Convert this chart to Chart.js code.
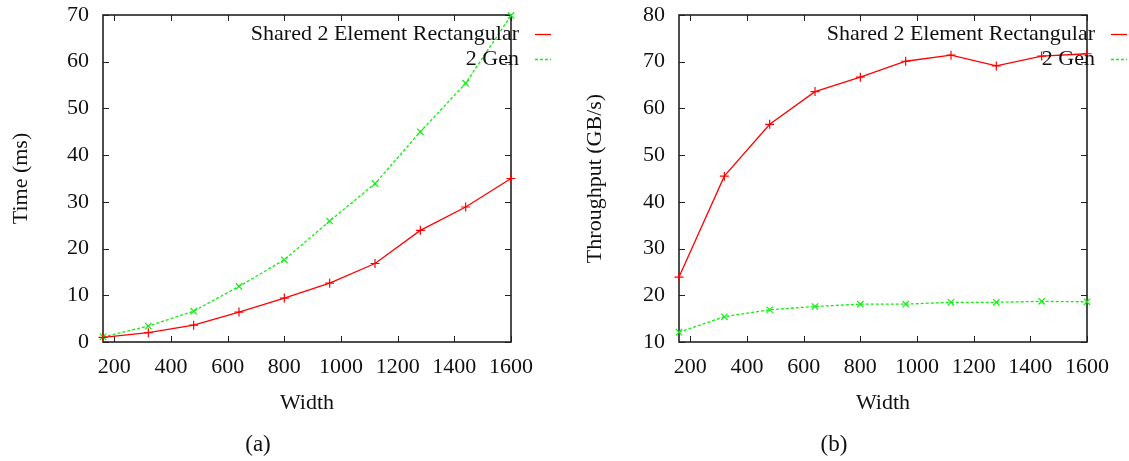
<!DOCTYPE html>
<html>
<head>
<meta charset="utf-8">
<script src="https://cdn.jsdelivr.net/npm/chart.js@4.4.1/dist/chart.umd.min.js"></script>
<style>
  body { margin: 0; background: #fff; width: 1129px; height: 461px; position: relative; overflow: hidden; }
  .panel { position: absolute; top: 0; height: 461px; }
  .caption { position: absolute; top: 431px; font: 23px "Liberation Serif", serif; color: #111; transform: translateX(-50%); }
</style>
</head>
<body>
<div class="panel" style="left:0;width:565px"><canvas id="timeChart"></canvas></div>
<div class="panel" style="left:565px;width:564px"><canvas id="tputChart"></canvas></div>
<div class="caption" style="left:258px">(a)</div>
<div class="caption" style="left:834px">(b)</div>
<script>
const widths = [160, 320, 480, 640, 800, 960, 1120, 1280, 1440, 1600];
const xTicks = [200, 400, 600, 800, 1000, 1200, 1400, 1600];
const seriesLabels = ["Shared 2 Element Rectangular", "2 Gen"];

// (a) time in ms
const timeShared = [1.0, 2.0, 3.6, 6.4, 9.4, 12.6, 16.8, 23.9, 28.9, 35.0];
const timeGen = [1.1, 3.4, 6.6, 11.9, 17.6, 25.9, 33.9, 45.0, 55.4, 69.9];
const timeTicks = [0, 10, 20, 30, 40, 50, 60, 70];

// (b) throughput in GB/s
const tputShared = [23.9, 45.5, 56.6, 63.6, 66.7, 70.1, 71.4, 69.1, 71.2, 71.7];
const tputGen = [12.1, 15.4, 16.9, 17.6, 18.1, 18.1, 18.5, 18.5, 18.7, 18.6];
const tputTicks = [10, 20, 30, 40, 50, 60, 70, 80];

const RED = "#ff0000";
const GREEN = "#11ee11";
const FONT = "Liberation Serif";
const FS = 22;

// gnuplot style frame with inward ticks on all four sides
const framePlugin = {
  id: "frame",
  beforeDatasetsDraw(chart) {
    const { ctx, chartArea: a, scales } = chart;
    ctx.save();
    ctx.strokeStyle = "#222";
    ctx.lineWidth = 1;
    scales.x.ticks.forEach(t => {
      const px = Math.round(scales.x.getPixelForValue(t.value)) + 0.5;
      ctx.beginPath();
      ctx.moveTo(px, a.bottom); ctx.lineTo(px, a.bottom - 6);
      ctx.moveTo(px, a.top); ctx.lineTo(px, a.top + 6);
      ctx.stroke();
    });
    scales.y.ticks.forEach(t => {
      const py = Math.round(scales.y.getPixelForValue(t.value)) + 0.5;
      ctx.beginPath();
      ctx.moveTo(a.left, py); ctx.lineTo(a.left + 6, py);
      ctx.moveTo(a.right, py); ctx.lineTo(a.right - 6, py);
      ctx.stroke();
    });
    ctx.lineWidth = 1.6;
    ctx.strokeRect(a.left, a.top, a.right - a.left, a.bottom - a.top);
    ctx.restore();
  },
  afterDraw(chart) {
    // key: right aligned text with a line sample to its right
    const { ctx, chartArea: a } = chart;
    ctx.save();
    ctx.font = FS + "px " + FONT;
    ctx.textAlign = "right";
    ctx.textBaseline = "middle";
    chart.data.datasets.forEach((ds, i) => {
      const y = 34 + i * 25;
      ctx.fillStyle = "#111";
      ctx.fillText(ds.label, a.right + 8, y);
      ctx.strokeStyle = ds.borderColor;
      ctx.lineWidth = 1.3;
      ctx.setLineDash(ds.borderDash || []);
      ctx.beginPath();
      ctx.moveTo(a.right + 24, y + 0.5);
      ctx.lineTo(a.right + 40, y + 0.5);
      ctx.stroke();
    });
    ctx.restore();
  }
};

function makeChart(id, yTitle, yTicks, shared, gen, yWidth, padRight, titlePad) {
  const ctx = document.getElementById(id).getContext("2d");
  return new Chart(ctx, {
    type: "line",
    data: {
      labels: widths,
      datasets: [
        {
          label: seriesLabels[0],
          data: widths.map((w, i) => ({ x: w, y: shared[i] })),
          borderColor: RED,
          backgroundColor: RED,
          borderWidth: 1.3,
          pointStyle: "cross",
          pointRadius: 4.5,
          pointBorderWidth: 1.2,
          clip: false
        },
        {
          label: seriesLabels[1],
          data: widths.map((w, i) => ({ x: w, y: gen[i] })),
          borderColor: GREEN,
          backgroundColor: GREEN,
          borderWidth: 1.3,
          borderDash: [3, 2],
          pointStyle: "crossRot",
          pointRadius: 4.5,
          pointBorderWidth: 1.2,
          clip: false
        }
      ]
    },
    options: {
      responsive: true,
      maintainAspectRatio: false,
      animation: false,
      layout: { padding: { left: 0, right: padRight, top: 15, bottom: 42 } },
      plugins: { legend: { display: false }, tooltip: { enabled: false } },
      scales: {
        x: {
          type: "linear",
          min: 160,
          max: 1600,
          afterBuildTicks: s => { s.ticks = xTicks.map(v => ({ value: v })); },
          afterFit: s => { s.height = 77; s.paddingLeft = 0; s.paddingRight = 0; },
          grid: { display: false, drawTicks: false },
          border: { display: false },
          ticks: { color: "#111", padding: 12, maxRotation: 0, font: { family: FONT, size: FS }, callback: v => String(v) },
          title: { display: true, text: "Width", color: "#111", padding: { top: 4, bottom: 3 }, font: { family: FONT, size: FS } }
        },
        y: {
          min: yTicks[0],
          max: yTicks[yTicks.length - 1],
          afterBuildTicks: s => { s.ticks = yTicks.map(v => ({ value: v })); },
          afterFit: s => { s.width = yWidth; s.paddingTop = 0; s.paddingBottom = 0; },
          grid: { display: false, drawTicks: false },
          border: { display: false },
          ticks: { color: "#111", padding: 14, font: { family: FONT, size: FS }, callback: v => String(v) },
          title: { display: true, text: yTitle, color: "#111", padding: { top: titlePad, bottom: 0 }, font: { family: FONT, size: FS } }
        }
      }
    },
    plugins: [framePlugin]
  });
}

makeChart("timeChart", "Time (ms)", timeTicks, timeShared, timeGen, 103, 54, 8);
makeChart("tputChart", "Throughput (GB/s)", tputTicks, tputShared, tputGen, 114, 42, 17);
</script>
</body>
</html>
